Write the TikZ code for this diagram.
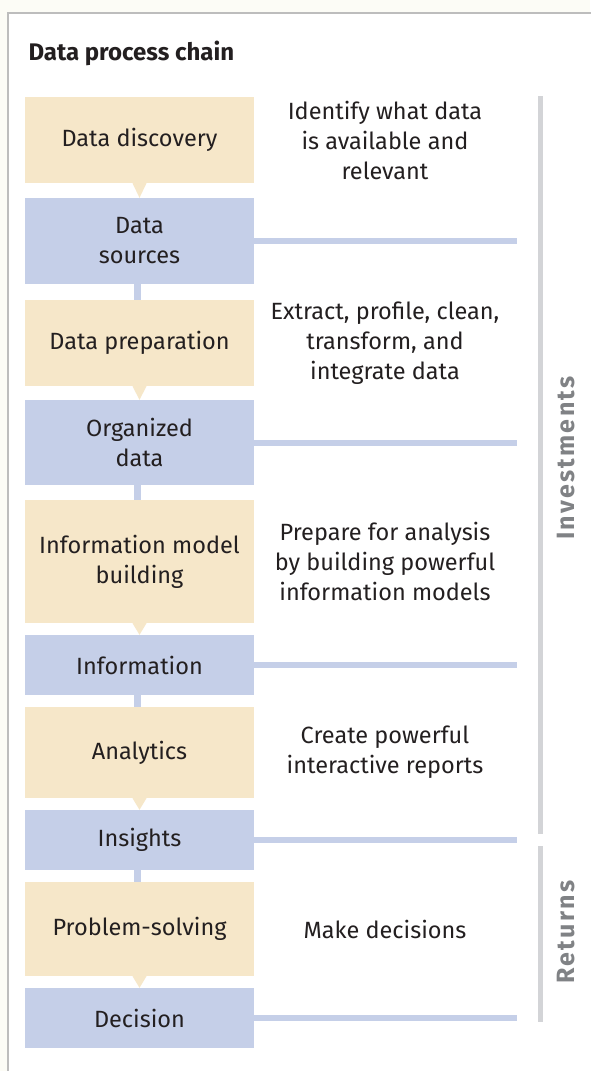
\documentclass[tikz,border=0pt]{standalone}
\usepackage{fontspec}
\setmainfont{Fira Sans}
\definecolor{tanfill}{HTML}{F6E7C9}
\definecolor{bluefill}{HTML}{C5CFE8}
\definecolor{barfill}{HTML}{D3D4D7}
\definecolor{sidegray}{HTML}{808285}
\definecolor{inkdark}{HTML}{231F20}
\definecolor{pagetint}{HTML}{FCFCF6}
\definecolor{framegray}{HTML}{BDBDBD}
\newcommand\chainfont{\fontsize{23.5}{30}\selectfont}

\begin{document}
\begin{tikzpicture}[x=1pt,y=-1pt,
  stage/.style={fill=tanfill, minimum width=229pt, inner sep=0pt, align=center, text=inkdark, font=\chainfont},
  result/.style={fill=bluefill, minimum width=229pt, inner sep=0pt, align=center, text=inkdark, font=\chainfont},
  note/.style={align=center, text=inkdark, font=\chainfont},
  link/.style={draw=bluefill, line width=7pt},
  side/.style={draw=barfill, line width=5pt},
  sidelabel/.style={text=sidegray, font=\fontsize{25}{30}\selectfont\bfseries\addfontfeatures{LetterSpace=9}, rotate=90}]

% Page and frame
\fill[pagetint] (0,0) rectangle (590,1071);
\useasboundingbox (0,0) rectangle (590,1071);
\fill[white] (8,13) rectangle (592,1073);
\draw[framegray, line width=2pt] (8,1073) -- (8,13) -- (592,13);

% Title
\node[anchor=base west, text=inkdark, font=\fontsize{24}{28}\selectfont\bfseries] (title) at (25,60) {Data process chain};

% Chain boxes
\node[stage, minimum height=86pt] (disc) at (139.5,140) {Data discovery};
\node[result, minimum height=86pt] (src) at (139.5,241) {Data\\sources};
\node[stage, minimum height=86pt] (prep) at (139.5,343) {Data preparation};
\node[result, minimum height=85pt] (org) at (139.5,442.5) {Organized\\data};
\node[stage, minimum height=123pt] (imb) at (139.5,561.5) {Information model\\building};
\node[result, minimum height=60pt] (info) at (139.5,665) {Information};
\node[stage, minimum height=91pt] (ana) at (139.5,752.5) {Analytics};
\node[result, minimum height=60pt] (ins) at (139.5,840) {Insights};
\node[stage, minimum height=94pt] (prob) at (139.5,929) {Problem-solving};
\node[result, minimum height=60pt] (dec) at (139.5,1018) {Decision};

% Pointers from stages to results
\foreach \a/\b in {disc/src, prep/org, imb/info, ana/ins, prob/dec} {
  \fill[tanfill] ([xshift=-7pt]\a.south) -- (\b.north) -- ([xshift=7pt]\a.south) -- cycle;
}

% Links from results to next stage
\foreach \a/\b in {src/prep, org/imb, info/ana, ins/prob} {
  \draw[link] ([xshift=-2.5pt]\a.south) -- ([xshift=-2.5pt]\b.north);
}

% Lines to the right
\coordinate (rim) at (517,0);
\foreach \a in {src, org, info, ins, dec} {
  \draw[link, line width=6pt] (\a.east) -- (\a.east -| rim);
}

% Descriptions
\coordinate (notecol) at (385,0);
\node[note] (n1) at (disc -| notecol) {Identify what data\\is available and\\relevant};
\node[note] (n2) at (prep -| notecol) {Extract, profile, clean,\\transform, and\\integrate data};
\node[note] (n3) at (imb -| notecol) {Prepare for analysis\\by building powerful\\information models};
\node[note] (n4) at (ana -| notecol) {Create powerful\\interactive reports};
\node[note] (n5) at (prob -| notecol) {Make decisions};

% Side bars
\coordinate (invtop) at (540.5,96);
\coordinate (invbot) at (540.5,834);
\coordinate (rettop) at (540.5,846);
\coordinate (retbot) at (540.5,1022);
\draw[side] (invtop) -- (invbot);
\draw[side] (rettop) -- (retbot);
\node[sidelabel] (inv) at (566,458) {Investments};
\node[sidelabel] (ret) at (566,932) {Returns};

\end{tikzpicture}
\end{document}
